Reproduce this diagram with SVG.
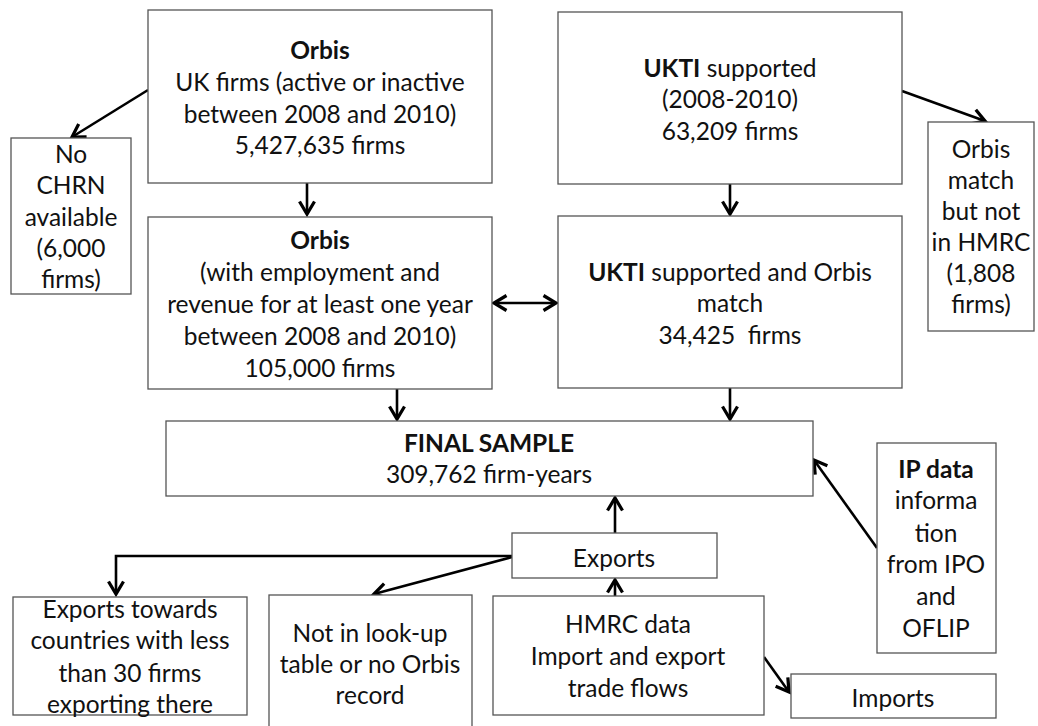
<svg xmlns="http://www.w3.org/2000/svg" width="1038" height="726" viewBox="0 0 1038 726">
<style>
.box{fill:#fff;stroke:#555;stroke-width:1.3}
.t{font-family:Lato,"Liberation Sans",sans-serif;font-size:24.5px;fill:#111;text-anchor:middle}
.b{font-weight:bold}
.c{fill:none;stroke:#000;stroke-width:2.6}
</style>
<defs>
<marker id="ah" markerUnits="userSpaceOnUse" markerWidth="20" markerHeight="20" viewBox="-12 -8 14 16" refX="0" refY="0" orient="auto-start-reverse">
<path d="M-10,-6 L0,0 L-10,6" fill="none" stroke="#000" stroke-width="2.6"/>
</marker>
</defs>
<rect width="1038" height="726" fill="#fff"/>
<g id="connectors">
<line class="c" x1="148" y1="90" x2="72" y2="137" marker-end="url(#ah)"/>
<line class="c" x1="307" y1="183" x2="307" y2="214" marker-end="url(#ah)"/>
<line class="c" x1="902" y1="91" x2="985" y2="121" marker-end="url(#ah)"/>
<line class="c" x1="730" y1="184" x2="730" y2="214" marker-end="url(#ah)"/>
<line class="c" x1="494" y1="303" x2="556" y2="303" marker-start="url(#ah)" marker-end="url(#ah)"/>
<line class="c" x1="397" y1="389" x2="397" y2="419" marker-end="url(#ah)"/>
<line class="c" x1="730" y1="388" x2="730" y2="419" marker-end="url(#ah)"/>
<line class="c" x1="877" y1="548" x2="814" y2="460" marker-end="url(#ah)"/>
<line class="c" x1="615" y1="533" x2="615" y2="498" marker-end="url(#ah)"/>
<line class="c" x1="615" y1="596" x2="615" y2="580" marker-end="url(#ah)"/>
<line class="c" x1="764" y1="657" x2="789" y2="692" marker-end="url(#ah)"/>
<polyline class="c" points="512,556 116,556 116,594" marker-end="url(#ah)"/>
<line class="c" x1="512" y1="557" x2="374" y2="594" marker-end="url(#ah)"/>
</g>
<g id="orbis-uk">
<rect class="box" x="148" y="10" width="344" height="173"/>
<text class="t b" x="320" y="59">Orbis</text>
<text class="t" x="320" y="91">UK firms (active or inactive</text>
<text class="t" x="320" y="123">between 2008 and 2010)</text>
<text class="t" x="320" y="154">5,427,635 firms</text>
</g>
<g id="no-chrn">
<rect class="box" x="11" y="138" width="120" height="156"/>
<text class="t" x="71" y="163">No</text>
<text class="t" x="71" y="194">CHRN</text>
<text class="t" x="71" y="226">available</text>
<text class="t" x="71" y="257">(6,000</text>
<text class="t" x="71" y="288">firms)</text>
</g>
<g id="ukti">
<rect class="box" x="558" y="12" width="344" height="172"/>
<text class="t" x="730" y="77"><tspan class="b">UKTI</tspan> supported</text>
<text class="t" x="730" y="108">(2008-2010)</text>
<text class="t" x="730" y="140">63,209 firms</text>
</g>
<g id="orbis-match">
<rect class="box" x="928" y="122" width="106" height="209"/>
<text class="t" x="981" y="158">Orbis</text>
<text class="t" x="981" y="189">match</text>
<text class="t" x="981" y="220">but not</text>
<text class="t" x="981" y="251">in HMRC</text>
<text class="t" x="981" y="282">(1,808</text>
<text class="t" x="981" y="313">firms)</text>
</g>
<g id="orbis-emp">
<rect class="box" x="148" y="217" width="344" height="172"/>
<text class="t b" x="320" y="249">Orbis</text>
<text class="t" x="320" y="281">(with employment and</text>
<text class="t" x="320" y="313">revenue for at least one year</text>
<text class="t" x="320" y="345">between 2008 and 2010)</text>
<text class="t" x="320" y="377">105,000 firms</text>
</g>
<g id="ukti-orbis">
<rect class="box" x="558" y="216" width="344" height="172"/>
<text class="t" x="730" y="281"><tspan class="b">UKTI</tspan> supported and Orbis</text>
<text class="t" x="730" y="312">match</text>
<text class="t" x="730" y="344" xml:space="preserve">34,425  firms</text>
</g>
<g id="final-sample">
<rect class="box" x="166" y="421" width="647" height="75"/>
<text class="t b" x="489" y="452">FINAL SAMPLE</text>
<text class="t" x="489" y="483">309,762 firm-years</text>
</g>
<g id="ip-data">
<rect class="box" x="877" y="443" width="119" height="210"/>
<text class="t b" x="936" y="478">IP data</text>
<text class="t" x="936" y="509">informa</text>
<text class="t" x="936" y="542">tion</text>
<text class="t" x="936" y="573">from IPO</text>
<text class="t" x="936" y="605">and</text>
<text class="t" x="936" y="637">OFLIP</text>
</g>
<g id="exports">
<rect class="box" x="512" y="533" width="205" height="45"/>
<text class="t" x="614" y="567">Exports</text>
</g>
<g id="hmrc">
<rect class="box" x="493" y="596" width="271" height="119"/>
<text class="t" x="628" y="633">HMRC data</text>
<text class="t" x="628" y="665">Import and export</text>
<text class="t" x="628" y="697">trade flows</text>
</g>
<g id="imports">
<rect class="box" x="791" y="674" width="205" height="44"/>
<text class="t" x="893" y="707">Imports</text>
</g>
<g id="exports-less30">
<rect class="box" x="13" y="597" width="234" height="118"/>
<text class="t" x="130" y="618">Exports towards</text>
<text class="t" x="130" y="649">countries with less</text>
<text class="t" x="130" y="682">than 30 firms</text>
<text class="t" x="130" y="713">exporting there</text>
</g>
<g id="not-lookup">
<rect class="box" x="269" y="595" width="203" height="140"/>
<text class="t" x="370" y="642">Not in look-up</text>
<text class="t" x="370" y="673">table or no Orbis</text>
<text class="t" x="370" y="704">record</text>
</g>
</svg>
